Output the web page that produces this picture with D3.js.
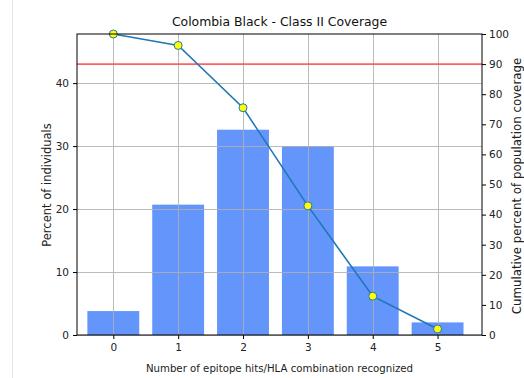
<!DOCTYPE html>
<html>
<head>
<meta charset="utf-8">
<script src="https://cdn.jsdelivr.net/npm/d3@7"></script>
<style>
  html, body { margin: 0; padding: 0; background: #fff; }
  svg { display: block; font-family: "DejaVu Sans", sans-serif; }
</style>
</head>
<body>
<svg id="chart" width="524" height="378"></svg>
<script>
// Epitope hits per HLA combination
const hits = [0, 1, 2, 3, 4, 5];
// Percent of individuals at each hit count
const percentIndividuals = [3.8, 20.7, 32.6, 30.0, 10.9, 2.0];
// Cumulative population coverage (hits >= n)
const cumulativeCoverage = [100, 96.2, 75.5, 42.9, 12.9, 2.0];
const leftTicks = [0, 10, 20, 30, 40];
const rightTicks = [0, 10, 20, 30, 40, 50, 60, 70, 80, 90, 100];
const coverageTarget = 90;

const svg = d3.select("#chart");
const m = { left: 77, right: 482, top: 34, bottom: 335 };

// faint page edge on the left
svg.append("line").attr("x1", 12.5).attr("x2", 12.5).attr("y1", 0).attr("y2", 378)
  .attr("stroke", "#e4e4e4").attr("stroke-width", 1);

const x = d3.scaleLinear().domain([-0.56, 5.685]).range([m.left, m.right]);
const yL = d3.scaleLinear().domain([0, 47.8]).range([m.bottom, m.top]);
const yR = d3.scaleLinear().domain([0, 100]).range([m.bottom, m.top]);

// bars
const bw = x(0.8) - x(0);
svg.append("g").selectAll("rect").data(hits).join("rect")
  .attr("x", d => x(d) - bw / 2)
  .attr("width", bw)
  .attr("y", (d, i) => yL(percentIndividuals[i]))
  .attr("height", (d, i) => yL(0) - yL(percentIndividuals[i]))
  .attr("fill", "#6495fb");

// grid over the bars
const grid = svg.append("g").attr("stroke", "#b0b0b0").attr("stroke-width", 1).attr("opacity", 0.85);
grid.selectAll(".gx").data(hits).join("line")
  .attr("x1", d => Math.round(x(d)) + 0.5).attr("x2", d => Math.round(x(d)) + 0.5)
  .attr("y1", m.top).attr("y2", m.bottom);
grid.selectAll(".gy").data(leftTicks).join("line")
  .attr("x1", m.left).attr("x2", m.right)
  .attr("y1", d => Math.round(yL(d)) + 0.5).attr("y2", d => Math.round(yL(d)) + 0.5);

// 90% coverage target
svg.append("line")
  .attr("x1", m.left).attr("x2", m.right)
  .attr("y1", yR(coverageTarget)).attr("y2", yR(coverageTarget))
  .attr("stroke", "#ff5050").attr("stroke-width", 1.6).attr("opacity", 0.9);

// cumulative coverage line with markers
const line = d3.line().x((d, i) => x(hits[i])).y(d => yR(d));
svg.append("path").datum(cumulativeCoverage)
  .attr("d", line).attr("fill", "none")
  .attr("stroke", "#1f77b4").attr("stroke-width", 1.6);
svg.append("g").selectAll("circle").data(cumulativeCoverage).join("circle")
  .attr("cx", (d, i) => x(hits[i])).attr("cy", d => yR(d)).attr("r", 4)
  .attr("fill", "#ffff00").attr("stroke", "#1f77b4").attr("stroke-width", 1);

// frame
svg.append("rect").attr("x", m.left).attr("y", m.top)
  .attr("width", m.right - m.left).attr("height", m.bottom - m.top)
  .attr("fill", "none").attr("stroke", "#000").attr("stroke-width", 1);

// axes
const axStyle = g => {
  g.select(".domain").remove();
  g.selectAll("text").attr("font-size", 10.5).attr("fill", "#222").attr("font-family", "DejaVu Sans, sans-serif");
  g.selectAll("line").attr("stroke", "#000");
};
svg.append("g").attr("transform", `translate(0,${m.bottom})`)
  .call(d3.axisBottom(x).tickValues(hits).tickFormat(d3.format("d")).tickSize(4).tickPadding(5))
  .call(axStyle);
svg.append("g").attr("transform", `translate(${m.left},0)`)
  .call(d3.axisLeft(yL).tickValues(leftTicks).tickSize(4).tickPadding(4))
  .call(axStyle);
svg.append("g").attr("transform", `translate(${m.right},0)`)
  .call(d3.axisRight(yR).tickValues(rightTicks).tickSize(4).tickPadding(3))
  .call(axStyle);

// titles
svg.append("text").attr("x", (m.left + m.right) / 2).attr("y", 26)
  .attr("text-anchor", "middle").attr("font-size", 12.4).attr("fill", "#111")
  .text("Colombia Black - Class II Coverage");
svg.append("text").attr("x", (m.left + m.right) / 2).attr("y", 372)
  .attr("text-anchor", "middle").attr("font-size", 10.2).attr("fill", "#222")
  .text("Number of epitope hits/HLA combination recognized");
svg.append("text").attr("transform", `translate(51,185) rotate(-90)`)
  .attr("text-anchor", "middle").attr("font-size", 11.5).attr("fill", "#222")
  .text("Percent of individuals");
svg.append("text").attr("transform", `translate(521,186) rotate(-90)`)
  .attr("text-anchor", "middle").attr("font-size", 11.8).attr("fill", "#222")
  .text("Cumulative percent of population coverage");
</script>
</body>
</html>
